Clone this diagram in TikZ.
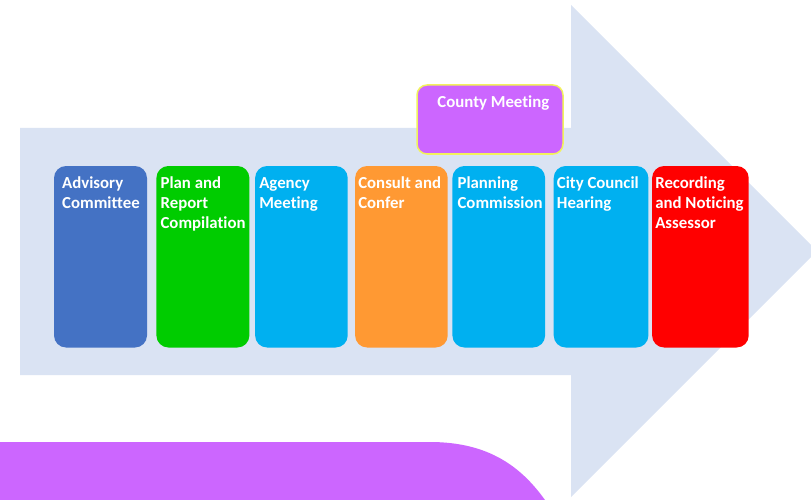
\documentclass[tikz,border=0pt]{standalone}
\usepackage{fontspec}
\setmainfont{Carlito}[Ligatures=CommonOff]
\usetikzlibrary{positioning}

\definecolor{arrowbg}{HTML}{DAE3F3}
\definecolor{lilac}{HTML}{CC66FF}
\definecolor{advblue}{HTML}{4472C4}
\definecolor{plangreen}{HTML}{00CC00}
\definecolor{skyblue}{HTML}{00B0F0}
\definecolor{conforange}{HTML}{FF9933}
\definecolor{recred}{HTML}{FF0000}
\definecolor{glowyellow}{HTML}{F2F25C}

\begin{document}
\begin{tikzpicture}[
    x=1pt, y=-1pt,
    stage/.style={fill=#1, rounded corners=12pt, minimum width=93pt,
      minimum height=181.5pt, inner sep=0pt, outer sep=0pt},
    caption/.style={anchor=north west, align=left, text=white, inner sep=0pt,
      font=\bfseries\fontsize{16.8}{20}\selectfont},
    countybox/.style={fill=lilac, draw=glowyellow, line width=1.5pt,
      rounded corners=10pt, minimum width=146pt, minimum height=69pt, inner sep=0pt}
  ]
    \useasboundingbox (0,0) rectangle (811,500);

    % background arrow and purple corner
    \fill[arrowbg] (20,128) -- (571,128) -- (571,5) -- (817,251) -- (571,497)
      -- (571,375) -- (20,375) -- cycle;
    \fill[lilac] (0,442) -- (430,442) .. controls (490,442) and (522,468) .. (545,500)
      -- (0,500) -- cycle;

    \node[countybox] (county) at (490,119.5) {};
    \node[caption] (countytxt) at ([xshift=21pt, yshift=-11pt]county.north west) {County Meeting};

    \node[stage=advblue, anchor=north west] (advisory) at (54,166) {};
    \node[stage=plangreen, right=9.4pt of advisory] (plan) {};
    \node[stage=skyblue, right=5.7pt of plan, minimum width=92.6pt] (agency) {};
    \node[stage=conforange, right=7.4pt of agency, minimum width=92.6pt] (consult) {};
    \node[stage=skyblue, right=4.7pt of consult, minimum width=92.7pt] (planning) {};
    \node[stage=skyblue, right=8.6pt of planning, minimum width=94.7pt] (council) {};
    \node[stage=recred, right=3.7pt of council, minimum width=96.6pt] (recording) {};

    \node[caption] (advisorytxt) at ([xshift=8pt, yshift=-11pt]advisory.north west) {Advisory\\Committee};
    \node[caption] (plantxt) at ([xshift=4pt, yshift=-11pt]plan.north west) {Plan and\\Report\\Compilation};
    \node[caption] (agencytxt) at ([xshift=4pt, yshift=-11pt]agency.north west) {Agency\\Meeting};
    \node[caption] (consulttxt) at ([xshift=3pt, yshift=-11pt]consult.north west) {Consult and\\Confer};
    \node[caption] (planningtxt) at ([xshift=5pt, yshift=-11pt]planning.north west) {Planning\\Commission};
    \node[caption] (counciltxt) at ([xshift=3pt, yshift=-11pt]council.north west) {City Council\\Hearing};
    \node[caption] (recordingtxt) at ([xshift=3pt, yshift=-11pt]recording.north west) {Recording\\and Noticing\\Assessor};
  \end{tikzpicture}
\end{document}
